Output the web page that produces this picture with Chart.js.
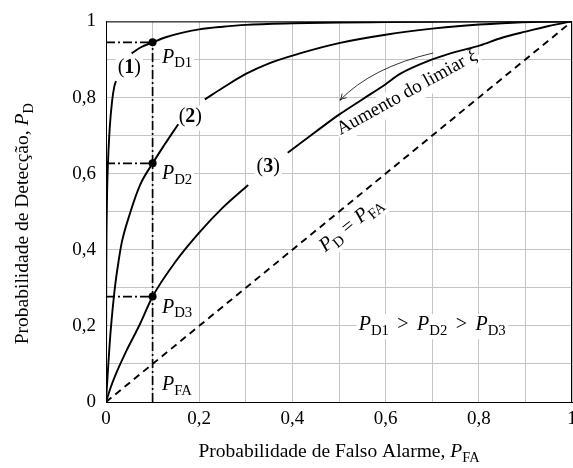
<!DOCTYPE html>
<html>
<head>
<meta charset="utf-8">
<script src="https://cdn.jsdelivr.net/npm/chart.js@4.4.0/dist/chart.umd.min.js"></script>
<style>
  html, body { margin: 0; padding: 0; background: #fff; overflow: hidden; }
  #wrap { position: relative; width: 600px; height: 468px; }
</style>
</head>
<body>
<div id="wrap"><canvas id="roc"></canvas></div>
<script>
// ROC curves (PFA -> PD); null marks the gap left for the curve label
const roc1X = [0, 0.0005, 0.002, 0.004, 0.008, 0.013, 0.018, 0.0215, 0.04, 0.055, 0.075, 0.1, 0.13, 0.16, 0.2, 0.25, 0.3, 0.4, 0.5, 0.6, 0.7, 0.8, 0.9, 1];
const roc1Y = [0, 0.3, 0.52, 0.62, 0.72, 0.79, 0.83, 0.843, null, 0.916, 0.932, 0.945, 0.959, 0.969, 0.979, 0.986, 0.991, 0.995, 0.997, 0.998, 0.999, 1, 1, 1];

const roc2X = [0, 0.004, 0.008, 0.012, 0.019, 0.027, 0.034, 0.05, 0.073, 0.1, 0.125, 0.155, 0.18, 0.212, 0.25, 0.3, 0.35, 0.416, 0.5, 0.6, 0.7, 0.76, 0.85, 0.93, 1];
const roc2Y = [0, 0.08, 0.155, 0.215, 0.3, 0.37, 0.42, 0.49, 0.57, 0.627, 0.675, 0.73, null, 0.795, 0.825, 0.862, 0.89, 0.916, 0.943, 0.965, 0.981, 0.988, 0.995, 0.999, 1];

const roc3X = [0, 0.01, 0.02, 0.044, 0.073, 0.1, 0.15, 0.2, 0.25, 0.305, 0.35, 0.39, 0.45, 0.5, 0.55, 0.6, 0.631, 0.7, 0.75, 0.803, 0.845, 0.9, 0.95, 1];
const roc3Y = [0, 0.038, 0.07, 0.135, 0.205, 0.277, 0.37, 0.445, 0.51, 0.57, null, 0.655, 0.71, 0.755, 0.795, 0.835, 0.862, 0.9, 0.92, 0.937, 0.955, 0.973, 0.988, 1];

const chanceX = [0, 1];
const chanceY = [0, 1];

// operating point PFA and the three detection probabilities
const pfaMark = 0.1;
const pdMarks = [0.945, 0.627, 0.277];

const tickValues = [0, 0.2, 0.4, 0.6, 0.8, 1];

const FONT = '"Liberation Serif", "Times New Roman", serif';
const toPts = (xs, ys) => xs.map((x, i) => ({ x: x, y: ys[i] }));
const fmt = v => (v === 0 ? '0' : v === 1 ? '1' : v.toFixed(1).replace('.', ','));

// rich text helpers (italic P with roman subscripts)
function fontStr(p, size) {
  const sz = p.sub ? size * 0.74 : size;
  return (p.it ? 'italic ' : '') + (p.b ? 'bold ' : '') + sz + 'px ' + FONT;
}
function partW(ctx, p, size) {
  ctx.font = fontStr(p, size);
  return ctx.measureText(p.t).width + (p.pad || 0) * size * 2;
}
function richWidth(ctx, parts, size) {
  return parts.reduce((w, p) => w + partW(ctx, p, size), 0);
}
function drawRich(ctx, parts, x, y, size, align, bg) {
  const w = richWidth(ctx, parts, size);
  let cx = align === 'center' ? x - w / 2 : align === 'right' ? x - w : x;
  if (bg) {
    ctx.fillStyle = '#fff';
    ctx.fillRect(cx - 2, y - size * 0.55, w + 4, size * 1.25);
  }
  ctx.fillStyle = '#000';
  ctx.textAlign = 'left';
  ctx.textBaseline = 'middle';
  parts.forEach(p => {
    const pw = partW(ctx, p, size);
    ctx.font = fontStr(p, size);
    ctx.fillText(p.t, cx + (p.pad || 0) * size, p.sub ? y + size * 0.3 : y);
    cx += pw;
  });
}
const P = s => [{ t: 'P', it: true }, { t: s, sub: true }];
const GT = { t: '>', pad: 0.42 };

const annotations = {
  id: 'annotations',
  beforeDatasetsDraw(chart) {
    const ctx = chart.ctx, xs = chart.scales.x, ys = chart.scales.y;
    const px = v => xs.getPixelForValue(v), py = v => ys.getPixelForValue(v);
    ctx.save();
    const lab = 20;
    drawRich(ctx, P('D1'), px(0.12), py(0.905), lab, 'left', true);
    drawRich(ctx, P('D2'), px(0.12), py(0.6), lab, 'left', true);
    drawRich(ctx, P('D3'), px(0.12), py(0.248), lab, 'left', true);
    drawRich(ctx, P('FA'), px(0.12), py(0.045), lab, 'left', true);
    const num = n => [{ t: '(' }, { t: n, b: true }, { t: ')' }];
    drawRich(ctx, num('1'), px(0.05), py(0.877), lab, 'center', true);
    drawRich(ctx, num('2'), px(0.181), py(0.75), lab, 'center', true);
    drawRich(ctx, num('3'), px(0.348), py(0.617), lab, 'center', true);
    drawRich(ctx, [].concat(P('D1'), [GT], P('D2'), [GT], P('D3')), px(0.70), py(0.202), lab, 'center', true);

    const ang = Math.atan2(py(1) - py(0), px(1) - px(0));
    ctx.translate(px(0.526), py(0.466));
    ctx.rotate(ang);
    drawRich(ctx, [].concat(P('D'), [{ t: '=', pad: 0.28 }], P('FA')), 0, 0, lab, 'center', true);
    ctx.restore();

    ctx.save();
    ctx.translate(px(0.646), py(0.813));
    ctx.rotate(-29 * Math.PI / 180);
    drawRich(ctx, [{ t: 'Aumento do limiar ' }, { t: 'ξ', it: true }], 0, 0, 19, 'center', true);
    ctx.restore();
  },
  afterDatasetsDraw(chart) {
    const ctx = chart.ctx, xs = chart.scales.x, ys = chart.scales.y, a = chart.chartArea;
    const px = v => xs.getPixelForValue(v), py = v => ys.getPixelForValue(v);
    ctx.save();
    // arrow
    const sx = px(0.702), sy = py(0.917), cx = px(0.57), cy = py(0.879), ex = px(0.502), ey = py(0.793);
    ctx.strokeStyle = '#000';
    ctx.lineWidth = 0.8;
    ctx.beginPath();
    ctx.moveTo(sx, sy);
    ctx.quadraticCurveTo(cx, cy, ex, ey);
    ctx.stroke();
    const dir = Math.atan2(ey - cy, ex - cx);
    ctx.beginPath();
    ctx.moveTo(ex - 7 * Math.cos(dir - 0.45), ey - 7 * Math.sin(dir - 0.45));
    ctx.quadraticCurveTo(ex - 2 * Math.cos(dir), ey - 2 * Math.sin(dir), ex, ey);
    ctx.quadraticCurveTo(ex - 2 * Math.cos(dir), ey - 2 * Math.sin(dir), ex - 7 * Math.cos(dir + 0.45), ey - 7 * Math.sin(dir + 0.45));
    ctx.stroke();
    // frame
    ctx.lineWidth = 1;
    ctx.strokeRect(a.left + 0.5, a.top + 0.5, a.right - a.left - 1, a.bottom - a.top);
    // axis titles
    drawRich(ctx, [{ t: 'Probabilidade de Falso Alarme, ' }].concat(P('FA')), (a.left + a.right) / 2, 452, 19.5, 'center', false);
    ctx.translate(23, (a.top + a.bottom) / 2 + 12);
    ctx.rotate(-Math.PI / 2);
    drawRich(ctx, [{ t: 'Probabilidade de Detecção, ' }].concat(P('D')), 0, 0, 19.5, 'center', false);
    ctx.restore();
  }
};

const lineDs = (data, extra) => Object.assign({
  data: data,
  borderColor: '#000',
  borderWidth: 1.9,
  pointRadius: 0,
  fill: false,
  spanGaps: false,
  cubicInterpolationMode: 'monotone'
}, extra || {});

const dashDot = [9, 3, 2, 3];
const guideOpts = { borderDash: dashDot, borderWidth: 1.7, cubicInterpolationMode: 'default' };
const guideSets = [lineDs([{ x: pfaMark, y: 0 }, { x: pfaMark, y: pdMarks[0] }], guideOpts)]
  .concat(pdMarks.map(v => lineDs([{ x: 0, y: v }, { x: pfaMark, y: v }], guideOpts)));

new Chart(document.getElementById('roc'), {
  type: 'line',
  data: {
    datasets: [
      lineDs(toPts(chanceX, chanceY), { borderDash: [7, 5], borderWidth: 1.9, cubicInterpolationMode: 'default' }),
      ...guideSets,
      lineDs(toPts(roc1X, roc1Y)),
      lineDs(toPts(roc2X, roc2Y)),
      lineDs(toPts(roc3X, roc3Y)),
      lineDs(pdMarks.map(v => ({ x: pfaMark, y: v })), { showLine: false, pointRadius: 4, pointBackgroundColor: '#000', pointBorderWidth: 0 })
    ]
  },
  options: {
    responsive: true,
    maintainAspectRatio: false,
    animation: false,
    layout: { padding: { top: 16, right: 28, bottom: 0, left: 0 } },
    plugins: { legend: { display: false }, tooltip: { enabled: false } },
    scales: {
      x: {
        type: 'linear', min: 0, max: 1,
        afterFit: s => { s.height = 66; },
        afterBuildTicks: s => { s.ticks = [0, 0.1, 0.2, 0.3, 0.4, 0.5, 0.6, 0.7, 0.8, 0.9, 1].map(v => ({ value: v })); },
        ticks: {
          autoSkip: false, maxRotation: 0, padding: 6, color: '#000',
          font: { family: FONT, size: 19 },
          callback: v => (tickValues.some(t => Math.abs(t - v) < 1e-6) ? fmt(Math.round(v * 10) / 10) : '')
        },
        grid: { color: '#c4c4c4', lineWidth: 1, drawTicks: false },
        border: { color: '#000', width: 1 }
      },
      y: {
        type: 'linear', min: 0, max: 1,
        afterFit: s => { s.width = 106; },
        afterBuildTicks: s => { s.ticks = [0, 0.1, 0.2, 0.3, 0.4, 0.5, 0.6, 0.7, 0.8, 0.9, 1].map(v => ({ value: v })); },
        ticks: {
          autoSkip: false, padding: 10, color: '#000',
          font: { family: FONT, size: 19 },
          callback: v => (tickValues.some(t => Math.abs(t - v) < 1e-6) ? fmt(Math.round(v * 10) / 10) : '')
        },
        grid: { color: '#c4c4c4', lineWidth: 1, drawTicks: false },
        border: { color: '#000', width: 1 }
      }
    }
  },
  plugins: [annotations]
});
</script>
</body>
</html>
